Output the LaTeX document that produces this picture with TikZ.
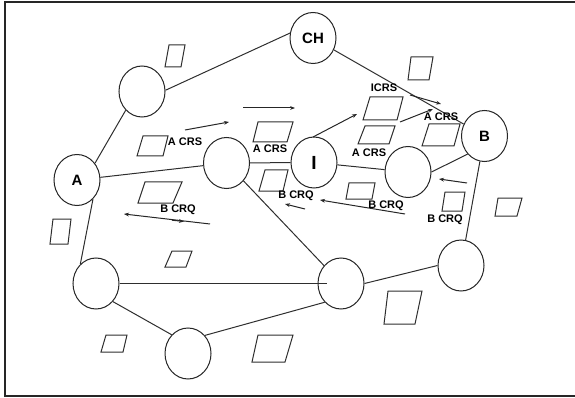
\documentclass[tikz,border=0pt]{standalone}
\usepackage{fontspec}
\setmainfont{Liberation Sans}
\usetikzlibrary{shapes.geometric,arrows.meta}
\begin{document}
\begin{tikzpicture}[x=1pt,y=-1pt,
  circ/.style={draw=black!85,line width=1pt,ellipse,minimum width=46pt,minimum height=51pt,inner sep=0pt,font=\bfseries\fontsize{15}{15}\selectfont},
  edge/.style={draw=black!82,line width=1pt},
  para/.style={draw=black!82,line width=1pt},
  lbl/.style={inner sep=0pt,font=\bfseries\fontsize{11}{11}\selectfont},
  arr/.style={draw=black!85,line width=1pt,-{Stealth[length=5pt,width=3.8pt]}}]
\useasboundingbox (0,0) rectangle (575,398);
% frame (right side lies outside the picture)
\begin{scope}
\clip (0,0) rectangle (575,398);
\draw[line width=1.4pt,black!85] (5,2) rectangle (580,396);
\end{scope}
% circles
\node[circ] (CH) at (313,38) {CH};
\node[circ] (TL) at (142,91.5) {};
\node[circ] (A) at (77,180) {A};
\node[circ] (M) at (226.5,163) {};
\node[circ] (I) at (314,162.5) {\fontsize{19}{19}\selectfont I};
\node[circ] (R) at (408,172) {};
\node[circ] (B) at (484.5,136) {B};
\node[circ] (BL) at (96,283.5) {};
\node[circ] (BCL) at (188,353.5) {};
\node[circ] (BM) at (341,283.5) {};
\node[circ] (RL) at (461,265.5) {};
% edges
\draw[edge] (A.43) -- (TL.-131);
\draw[edge] (TL.3) -- (CH.168);
\draw[edge] (CH) -- (B);
\draw[edge] (A) -- (M);
\draw[edge] (M) -- (I);
\draw[edge] (I) -- (R);
\draw[edge] (R.east) -- (B.-133);
\draw[edge] (B) -- (RL);
\draw[edge] (RL.west) -- (BM.east);
\draw[edge] (M) -- (BM);
\draw[edge] (BL.east) -- ([xshift=-14pt]BM.center);
\draw[edge] (A.-50) -- (BL.129);
\draw[edge] (BL.-47) -- (BCL.131);
\draw[edge] (BCL.47) -- (BM.-131);
% parallelograms
\draw[para] (169,45) -- (185,45) -- (181,67) -- (165,67) -- cycle;
\draw[para] (143,136) -- (168,136) -- (163,156) -- (137,156) -- cycle;
\draw[para] (258,122) -- (293,122) -- (287,142) -- (253,142) -- cycle;
\draw[para] (265,170) -- (288,170) -- (283,191) -- (259,191) -- cycle;
\draw[para] (145,182) -- (182,182) -- (173,203) -- (138,203) -- cycle;
\draw[para] (53,219) -- (71,219) -- (68,244) -- (50,244) -- cycle;
\draw[para] (172,251) -- (192,251) -- (186,267) -- (165,267) -- cycle;
\draw[para] (106,335) -- (127,335) -- (123,352) -- (101,352) -- cycle;
\draw[para] (258,335) -- (293,335) -- (285,362) -- (252,362) -- cycle;
\draw[para] (388,291) -- (422,291) -- (415,324) -- (384,324) -- cycle;
\draw[para] (445,192) -- (465,192) -- (462,211) -- (442,211) -- cycle;
\draw[para] (498,198) -- (522,198) -- (517,216) -- (495,216) -- cycle;
\draw[para] (349,183) -- (375,183) -- (372,199) -- (346,199) -- cycle;
\draw[para] (365,126) -- (395,126) -- (389,144) -- (358,144) -- cycle;
\draw[para] (370,97) -- (403,97) -- (397,120) -- (363,120) -- cycle;
\draw[para] (429,124) -- (460,124) -- (454,146) -- (422,146) -- cycle;
\draw[para] (411,57) -- (433,57) -- (429,80) -- (408,80) -- cycle;
% arrow end points
\coordinate (a1s) at (185,130); \coordinate (a1e) at (229,122);
\coordinate (a2s) at (243,108); \coordinate (a2e) at (295,108);
\coordinate (a3s) at (313,137); \coordinate (a3e) at (357,114);
\coordinate (a4s) at (410,95);  \coordinate (a4e) at (441,104);
\coordinate (a5s) at (400,122); \coordinate (a5e) at (433,109);
\coordinate (a6s) at (467,183); \coordinate (a6e) at (439,179);
\coordinate (a7s) at (405,214); \coordinate (a7e) at (320,200);
\coordinate (a8s) at (305,209); \coordinate (a8e) at (285,204);
\coordinate (a9s) at (210,224); \coordinate (a9e) at (124,214);
\coordinate (a9m) at (172,220.2); \coordinate (a9n) at (184,221.5);
% arrows
\draw[arr] (a1s) -- (a1e);
\draw[arr] (a2s) -- (a2e);
\draw[arr] (a3s) -- (a3e);
\draw[arr] (a4s) -- (a4e);
\draw[arr] (a5s) -- (a5e);
\draw[arr] (a6s) -- (a6e);
\draw[arr] (a7s) -- (a7e);
\draw[arr] (a8s) -- (a8e);
\draw[arr] (a9s) -- (a9e);
\draw[arr] (a9m) -- (a9n);
% labels
\node[lbl] (l1) at (185,142) {A CRS};
\node[lbl] (l2) at (270,149) {A CRS};
\node[lbl] (l3) at (384,88) {ICRS};
\node[lbl] (l4) at (441,117) {A CRS};
\node[lbl] (l5) at (369,153) {A CRS};
\node[lbl] (l6) at (296,196) {B CRQ};
\node[lbl] (l7) at (386,206) {B CRQ};
\node[lbl] (l8) at (445,220) {B CRQ};
\node[lbl] (l9) at (178,210) {B CRQ};
\end{tikzpicture}
\end{document}
